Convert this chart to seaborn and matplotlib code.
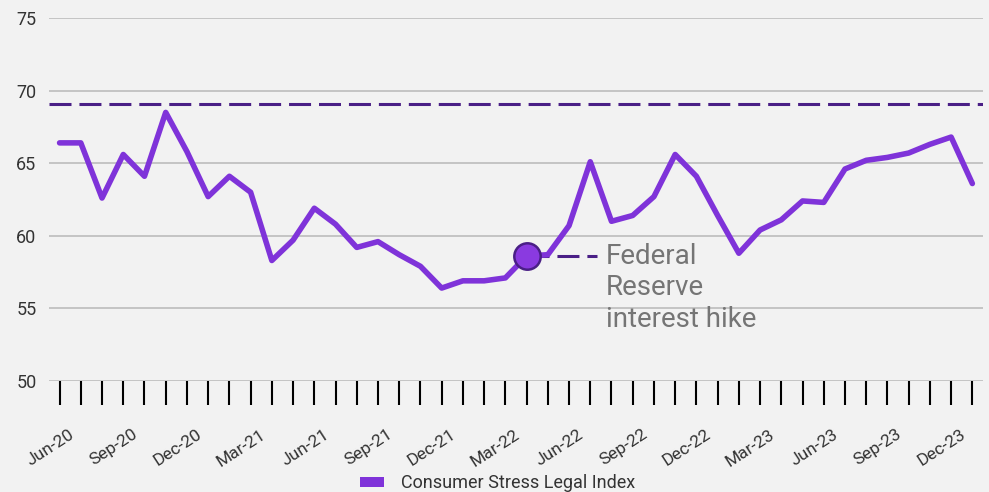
import pandas as pd
import seaborn as sns
import matplotlib.pyplot as plt
import matplotlib.transforms as mtransforms
from matplotlib.patches import Patch

# Monthly values, Jun-20 .. Jan-24
months = pd.date_range("2020-06-01", "2024-01-01", freq="MS").strftime("%b-%y").tolist()
index_values = [
    66.4, 66.4, 62.6, 65.6, 64.1, 68.5, 65.8, 62.7, 64.1, 63.0,
    58.3, 59.7, 61.9, 60.8, 59.2, 59.6, 58.7, 57.9, 56.4, 56.9,
    56.9, 57.1, 58.6, 58.7, 60.7, 65.1, 61.0, 61.4, 62.7, 65.6,
    64.1, 61.4, 58.8, 60.4, 61.1, 62.4, 62.3, 64.6, 65.2, 65.4,
    65.7, 66.3, 66.8, 63.6,
]
threshold = 69.1
hike_month = "Apr-22"
hike_label = "Federal\nReserve\ninterest hike"
series_name = "Consumer Stress Legal Index"
y_ticks = [50, 55, 60, 65, 70, 75]

line_color = "#7f33d9"
dark_purple = "#4a1f86"
bg = "#f2f2f2"

df = pd.DataFrame({"month": months, "value": index_values})
df["pos"] = range(len(df))

sns.set_style("white")
plt.rcParams["font.family"] = ["Roboto", "DejaVu Sans"]

fig = plt.figure(figsize=(9.89, 4.92), dpi=100, facecolor=bg)
ax = fig.add_axes([0.0495, 0.2256, 0.9444, 0.7378], facecolor=bg)

# Threshold line
ax.axhline(threshold, color=dark_purple, lw=2.2, dashes=(7.2, 2.6), zorder=2)

# Grid
for t in y_ticks:
    ax.axhline(t, color="#bdbdbd", lw=1.2, zorder=1)

sns.lineplot(data=df, x="pos", y="value", color=line_color, lw=4,
             ax=ax, zorder=3, legend=False)

# Annotation for the rate hike
hx = df.loc[df["month"] == hike_month, "pos"].iloc[0]
hy = df.loc[df["month"] == hike_month, "value"].iloc[0]
ax.plot([hx, hx + 3.34], [hy, hy], color=dark_purple, lw=2.2,
        dashes=(7.2, 2.6), zorder=2)
ax.plot([hx], [hy], marker="o", ms=19, mfc="#8a3ae0", mec=dark_purple,
        mew=1.8, zorder=4)
ax.text(hx + 3.72, hy, hike_label, fontsize=20, color="#757575",
        va="top", ha="left", linespacing=1.2,
        transform=ax.transData + mtransforms.ScaledTranslation(0, 0.13, fig.dpi_scale_trans))

ax.set_xlim(-0.5, len(df) - 0.5)
ax.set_ylim(50, 75)
ax.set_yticks(y_ticks)
ax.tick_params(axis="y", left=False, length=0, pad=9, labelsize=13, labelcolor="#333333")

ax.set_xticks(df["pos"])
ax.set_xticklabels([m if i % 3 == 0 else "" for i, m in enumerate(months)])
ax.tick_params(axis="x", bottom=True, direction="out", length=17, width=1.5,
               color="black", pad=16, labelsize=12.5, labelcolor="#333333")
offset = mtransforms.ScaledTranslation(0.09, 0, fig.dpi_scale_trans)
for lab in ax.get_xticklabels():
    lab.set_rotation(33)
    lab.set_ha("right")
    lab.set_va("top")
    lab.set_rotation_mode("anchor")
    lab.set_transform(lab.get_transform() + offset)

ax.set_xlabel("")
ax.set_ylabel("")
for s in ax.spines.values():
    s.set_visible(False)

handle = Patch(facecolor=line_color, edgecolor="none")
fig.legend([handle], [series_name], loc="center", bbox_to_anchor=(0.503, 0.018),
           frameon=False, fontsize=13, labelcolor="#333333",
           handlelength=1.35, handleheight=0.45, handletextpad=0.9)

fig.savefig("out.png", dpi=100, facecolor=bg)
